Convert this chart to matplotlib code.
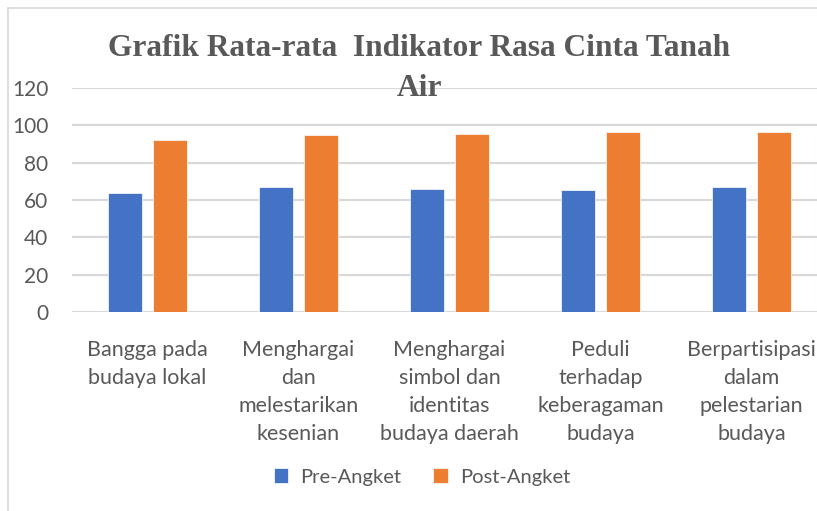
import matplotlib
matplotlib.use("Agg")
import matplotlib.pyplot as plt
import numpy as np

categories = ["Bangga pada\nbudaya lokal",
              "Menghargai\ndan\nmelestarikan\nkesenian",
              "Menghargai\nsimbol dan\nidentitas\nbudaya daerah",
              "Peduli\nterhadap\nkeberagaman\nbudaya",
              "Berpartisipasi\ndalam\npelestarian\nbudaya"]
pre_angket = [64, 66.7, 66, 65.5, 66.7]
post_angket = [92.4, 94.6, 95.3, 96.6, 96.6]
series_names = ["Pre-Angket", "Post-Angket"]
yticks = [0, 20, 40, 60, 80, 100, 120]

blue = "#4472C4"
orange = "#ED7D31"
txt = "#595959"
grid = "#D9D9D9"

fig = plt.figure(figsize=(8.17, 5.11), dpi=100)
ax = fig.add_axes([72 / 817, 199 / 511, 755 / 817, 224 / 511])

x = np.arange(len(categories))
w = 0.225
off = 0.146
b1 = ax.bar(x - off, pre_angket, w, color=blue, edgecolor="white", linewidth=0.5, label=series_names[0], zorder=3)
b2 = ax.bar(x + off, post_angket, w, color=orange, edgecolor="white", linewidth=0.5, label=series_names[1], zorder=3)

ax.set_xlim(-0.5, len(categories) - 0.5)
ax.set_ylim(0, 120)
ax.set_yticks(yticks)
ax.yaxis.grid(True, color=grid, linewidth=1.6, zorder=0)
ax.set_axisbelow(True)
for s in ax.spines.values():
    s.set_visible(False)
ax.tick_params(length=0)
ax.tick_params(axis="y", labelsize=15, labelcolor=txt, pad=17)
ax.set_xticks(x)
ax.set_xticklabels(categories, fontsize=15.5, color=txt, linespacing=1.5)
ax.tick_params(axis="x", pad=20)
for lbl in ax.get_xticklabels() + ax.get_yticklabels():
    lbl.set_family(["Lato", "DejaVu Sans"])

fig.text(0.513, 1 - 34 / 511, "Grafik Rata-rata  Indikator Rasa Cinta Tanah\nAir",
         ha="center", va="top", fontsize=22.6, fontweight="bold", color=txt,
         family=["Liberation Serif"], linespacing=1.5)

leg = fig.legend(handles=[b1, b2], labels=series_names, loc="center", bbox_to_anchor=(422 / 817, 1 - 477 / 511),
                 ncol=2, frameon=False, handlelength=0.7, handleheight=0.7,
                 columnspacing=1.6, handletextpad=0.6, prop={"family": ["Lato", "DejaVu Sans"], "size": 14.5})
for t in leg.get_texts():
    t.set_color(txt)

# chart border (left and top visible)
fig.add_artist(plt.Line2D([8 / 817, 8 / 817], [0, 1 - 8 / 511], color=grid, linewidth=1.2))
fig.add_artist(plt.Line2D([8 / 817, 1], [1 - 8 / 511, 1 - 8 / 511], color=grid, linewidth=1.2))

fig.savefig("out.png", dpi=100)
